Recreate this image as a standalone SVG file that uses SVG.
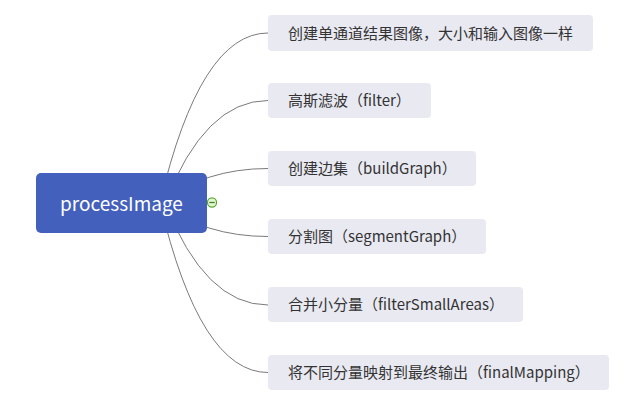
<svg xmlns="http://www.w3.org/2000/svg" width="641" height="405" viewBox="0 0 641 405">
<style>
.conn{fill:none;stroke:#7a7a7a;stroke-width:1}
.box{fill:#e9e9f2}
.lbl{font-family:"Noto Sans CJK SC","Noto Sans",sans-serif;font-size:15px;fill:#333333}
.root{fill:#4360bd}
.rlbl{font-family:"Noto Sans CJK SC","Noto Sans",sans-serif;font-size:19px;fill:#ffffff;text-anchor:middle}
</style>
<rect width="641" height="405" fill="#ffffff"/>
<g id="connectors">
<path class="conn" d="M160 203 Q200 33 268 33"/>
<path class="conn" d="M165 203 Q205 100.5 268 100.5"/>
<path class="conn" d="M160 203 Q205 168.5 268 168.5"/>
<path class="conn" d="M160 203 Q205 236.5 268 236.5"/>
<path class="conn" d="M165 203 Q205 305 268 305"/>
<path class="conn" d="M160 203 Q200 372.5 268 372.5"/>
</g>
<g id="root">
<rect class="root" x="36" y="173" width="171" height="60" rx="5"/>
<text class="rlbl" x="121.5" y="211">processImage</text>
</g>
<g id="collapse">
<circle cx="212" cy="202.5" r="4.6" fill="#e3f2d0" stroke="#5aa832" stroke-width="1.2"/>
<line x1="209.3" y1="202.5" x2="214.7" y2="202.5" stroke="#3e7f20" stroke-width="1.2"/>
</g>
<g id="n1">
<rect class="box" x="268" y="15" width="325" height="36" rx="4"/>
<text class="lbl" x="288" y="38.5">创建单通道结果图像，大小和输入图像一样</text>
</g>
<g id="n2">
<rect class="box" x="268" y="83" width="163" height="35" rx="4"/>
<text class="lbl" x="288" y="106">高斯滤波（filter）</text>
</g>
<g id="n3">
<rect class="box" x="268" y="151" width="208" height="35" rx="4"/>
<text class="lbl" x="288" y="174">创建边集（buildGraph）</text>
</g>
<g id="n4">
<rect class="box" x="268" y="219" width="218" height="35" rx="4"/>
<text class="lbl" x="288" y="242">分割图（segmentGraph）</text>
</g>
<g id="n5">
<rect class="box" x="268" y="287" width="255" height="35" rx="4"/>
<text class="lbl" x="288" y="310">合并小分量（filterSmallAreas）</text>
</g>
<g id="n6">
<rect class="box" x="268" y="355" width="341" height="35" rx="4"/>
<text class="lbl" x="288" y="378">将不同分量映射到最终输出（finalMapping）</text>
</g>
</svg>
